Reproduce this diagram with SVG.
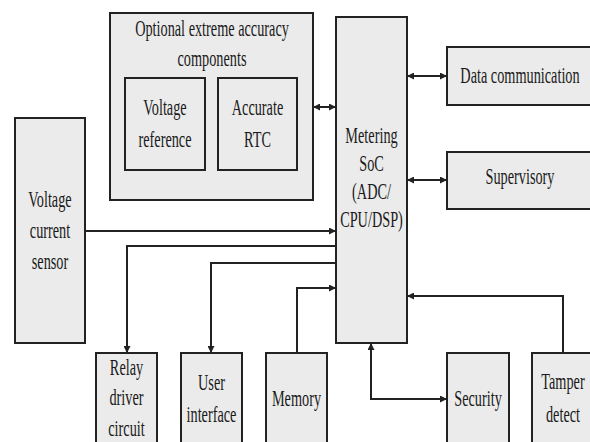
<svg xmlns="http://www.w3.org/2000/svg" width="590" height="442" viewBox="0 0 590 442">
<style>
.box{fill:#ebebeb;stroke:#222;stroke-width:2}
.ln{fill:none;stroke:#222;stroke-width:2}
.t text{font-size:24px;fill:#1a1a1a;text-anchor:middle}
</style>
<defs>
<marker id="ah" viewBox="0 0 10 10" refX="10" refY="5" markerUnits="userSpaceOnUse" markerWidth="8" markerHeight="7" orient="auto-start-reverse">
<path d="M0,0 L10,5 L0,10 z" fill="#222"/>
</marker>
</defs>
<rect width="590" height="442" fill="#fff"/>
<g class="t" font-family="'Liberation Serif', 'Times New Roman', 'DejaVu Serif', serif">
<g id="optional">
<rect class="box" x="110" y="13" width="203" height="187"/>
<text transform="translate(212,36) scale(0.595,1)">Optional extreme accuracy</text>
<text transform="translate(212,66) scale(0.595,1)">components</text>
</g>
<g id="voltage-reference">
<rect class="box" x="125" y="78" width="80" height="92"/>
<text transform="translate(165,115) scale(0.595,1)">Voltage</text>
<text transform="translate(165,147) scale(0.595,1)">reference</text>
</g>
<g id="accurate-rtc">
<rect class="box" x="218" y="78" width="79" height="92"/>
<text transform="translate(257.5,115) scale(0.595,1)">Accurate</text>
<text transform="translate(257.5,147) scale(0.595,1)">RTC</text>
</g>
<g id="soc">
<rect class="box" x="336" y="17" width="71" height="326"/>
<text transform="translate(371.5,143) scale(0.595,1)">Metering</text>
<text transform="translate(371.5,171) scale(0.595,1)">SoC</text>
<text transform="translate(371.5,199) scale(0.595,1)">(ADC/</text>
<text transform="translate(371.5,227) scale(0.595,1)">CPU/DSP)</text>
</g>
<g id="data-communication">
<rect class="box" x="447" y="47" width="148" height="58"/>
<text transform="translate(520,83) scale(0.595,1)">Data communication</text>
</g>
<g id="supervisory">
<rect class="box" x="447" y="152" width="148" height="57"/>
<text transform="translate(520,184) scale(0.595,1)">Supervisory</text>
</g>
<g id="sensor">
<rect class="box" x="15" y="118" width="70" height="225"/>
<text transform="translate(50,207) scale(0.595,1)">Voltage</text>
<text transform="translate(50,238) scale(0.595,1)">current</text>
<text transform="translate(50,269) scale(0.595,1)">sensor</text>
</g>
<g id="relay">
<rect class="box" x="96" y="353" width="61" height="100"/>
<text transform="translate(126.5,375) scale(0.595,1)">Relay</text>
<text transform="translate(126.5,405) scale(0.595,1)">driver</text>
<text transform="translate(126.5,436) scale(0.595,1)">circuit</text>
</g>
<g id="user-interface">
<rect class="box" x="181" y="353" width="61" height="100"/>
<text transform="translate(211.5,390) scale(0.595,1)">User</text>
<text transform="translate(211.5,422) scale(0.595,1)">interface</text>
</g>
<g id="memory">
<rect class="box" x="266" y="353" width="61" height="100"/>
<text transform="translate(296.5,406) scale(0.595,1)">Memory</text>
</g>
<g id="security">
<rect class="box" x="447" y="353" width="62" height="100"/>
<text transform="translate(478,406) scale(0.595,1)">Security</text>
</g>
<g id="tamper">
<rect class="box" x="532" y="353" width="63" height="100"/>
<text transform="translate(563,389) scale(0.595,1)">Tamper</text>
<text transform="translate(563,422) scale(0.595,1)">detect</text>
</g>
</g>
<g id="connectors">
<path class="ln" d="M313,107 L336,107" marker-start="url(#ah)" marker-end="url(#ah)"/>
<path class="ln" d="M407,76 L447,76" marker-start="url(#ah)" marker-end="url(#ah)"/>
<path class="ln" d="M407,180 L447,180" marker-start="url(#ah)" marker-end="url(#ah)"/>
<path class="ln" d="M85,231 L336,231" marker-end="url(#ah)"/>
<path class="ln" d="M336,246 L127,246 L127,353" marker-end="url(#ah)"/>
<path class="ln" d="M336,263 L211,263 L211,353" marker-end="url(#ah)"/>
<path class="ln" d="M297,353 L297,288 L336,288" marker-end="url(#ah)"/>
<path class="ln" d="M563,353 L563,296 L407,296" marker-end="url(#ah)"/>
<path class="ln" d="M371,343 L371,399 L447,399" marker-start="url(#ah)" marker-end="url(#ah)"/>
</g>
</svg>
